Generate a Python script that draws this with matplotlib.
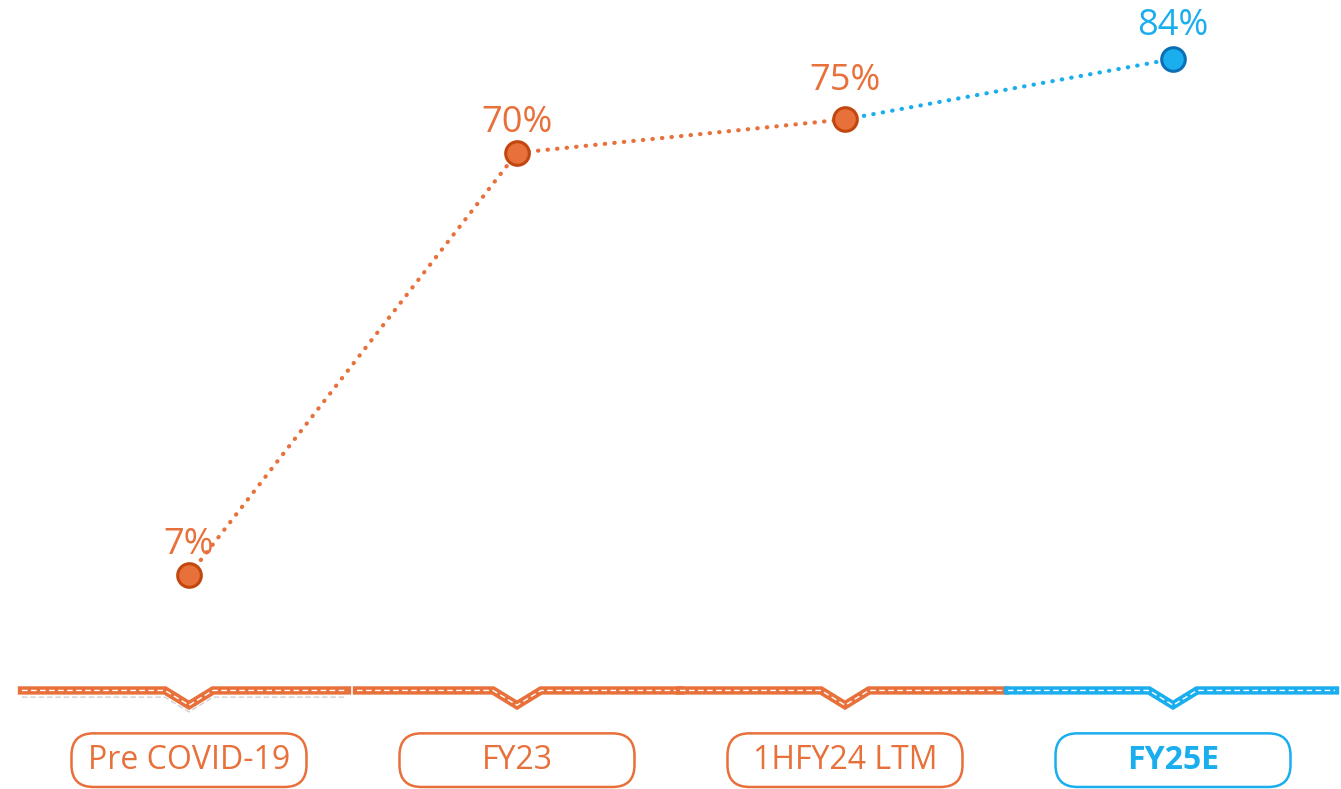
import numpy as np
import matplotlib.pyplot as plt
from matplotlib.patches import FancyBboxPatch

categories = ['Pre COVID-19', 'FY23', '1HFY24 LTM', 'FY25E']
values = [7, 70, 75, 84]
labels = ['7%', '70%', '75%', '84%']
label_offsets = [30, 30, 38, 33]  # pixels above the marker

orange = '#E8703A'
orange_dark = '#C2470F'
blue = '#1AAEEF'
blue_dark = '#0B6FB5'
colors = [orange, orange, orange, blue]
edges = [orange_dark, orange_dark, orange_dark, blue_dark]

plt.rcParams['font.family'] = ['Open Sans', 'DejaVu Sans']

fig = plt.figure(figsize=(13.41, 7.89), dpi=100)
ax = fig.add_axes([0, 0, 1, 1])
step = 328.0
x0 = -189 / step
ax.set_xlim(x0, x0 + 1341 / step)
ax.set_ylim(-24.9, 92.8)
ax.axis('off')

x = np.arange(len(categories))

# dotted connecting lines
ax.plot(x[:3], values[:3], linestyle=(0, (0.1, 2.2)), dash_capstyle='round',
        color=orange, lw=3, zorder=2)
ax.plot(x[2:], values[2:], linestyle=(0, (0.1, 2.2)), dash_capstyle='round',
        color=blue, lw=3, zorder=2)

for i in range(len(x)):
    ax.plot(x[i], values[i], 'o', ms=17, mfc=colors[i], mec=edges[i], mew=2.2, zorder=3)
    ax.annotate(labels[i], (x[i], values[i]), xytext=(0, label_offsets[i]),
                textcoords='offset pixels', ha='center', va='center',
                fontsize=26, color=colors[i], zorder=4)

# baseline segments with notch under each category
px = 1 / step           # data units per pixel, x
py = 117.7 / 789        # data units per pixel, y
base_y = -10.2
notch_y = -12.4
seg_edges = [(22, 347), (357, 680), (680, 1005), (1008, 1335)]
for i, (l, r) in enumerate(seg_edges):
    xl = x0 + l * px
    xr = x0 + r * px
    xs = [xl, x[i] - 24 * px, x[i], x[i] + 24 * px, xr]
    ys = [base_y, base_y, notch_y, base_y, base_y]
    if i == 0:
        ax.plot(xs, [v - 1.0 for v in ys], color='#D0D0D0', lw=1,
                linestyle=(0, (4, 2)), zorder=1)
    ax.plot(xs, ys, color=colors[i], lw=6, solid_joinstyle='miter', zorder=2)
    ax.plot(xs, ys, color='white', lw=1, linestyle=(0, (4, 2.5)), zorder=2)

# rounded label boxes
box_w = 235 * px
box_top = -16.6
box_bot = -24.6
for i, cat in enumerate(categories):
    box = FancyBboxPatch((x[i] - box_w / 2, box_bot), box_w, box_top - box_bot,
                         boxstyle='round,pad=0,rounding_size=%f' % (22 * px),
                         mutation_aspect=py / px, fill=False,
                         edgecolor=colors[i], lw=1.8, zorder=2, clip_on=False)
    ax.add_patch(box)
    ax.text(x[i], (box_top + box_bot) / 2, cat, ha='center', va='center',
            fontsize=23, color=colors[i],
            fontweight='bold' if i == 3 else 'normal', zorder=3)

fig.savefig('out.png', dpi=100)
